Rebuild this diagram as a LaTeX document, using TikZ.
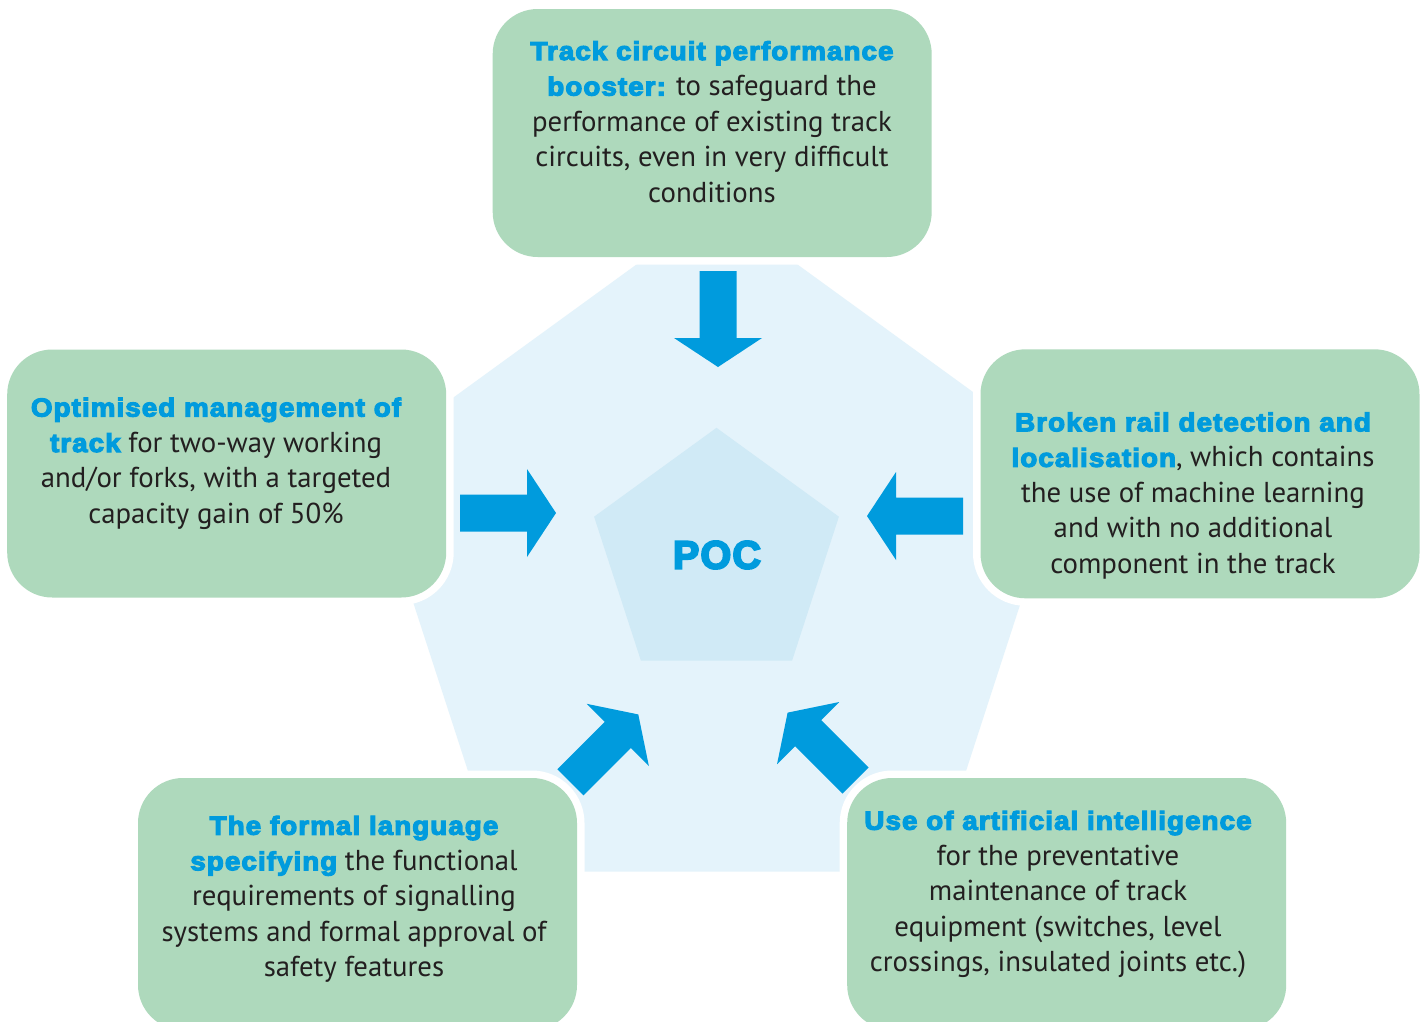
\documentclass[tikz,border=0pt]{standalone}
\usepackage{fontspec}
\setmainfont{PT Sans}
\newfontfamily\heavy{Liberation Sans Bold}[FakeStretch=1.07,FakeBold=4.5,LetterSpace=4]
\newfontfamily\heavypoc{Liberation Sans Bold}[FakeBold=5,LetterSpace=3]
\definecolor{boxgreen}{HTML}{AED9BC}
\definecolor{outerblue}{HTML}{E4F3FB}
\definecolor{innerblue}{HTML}{D0EAF6}
\definecolor{arrowblue}{HTML}{009BDD}
\definecolor{txt}{HTML}{231F20}
\tikzset{
  infobox/.style={rectangle, rounded corners=45pt, fill=boxgreen,
    preaction={draw=white, line width=15pt}, inner sep=0pt,
    minimum width=439pt, minimum height=248pt},
  infotext/.style={align=center, anchor=base, inner sep=0pt, text=txt,
    font=\fontsize{28.8}{35.5}\selectfont},
  pics/barrow/.style={code={
    \fill[arrowblue] (0,-18.5) -- (67,-18.5) -- (67,-44) -- (96,0)
      -- (67,44) -- (67,18.5) -- (0,18.5) -- cycle;}}
}
\newcommand{\hl}[1]{{\heavy\color{arrowblue}\fontsize{26}{35.5}\selectfont #1}}
\begin{document}
\begin{tikzpicture}[x=1pt,y=-1pt]
\useasboundingbox[fill=white] (0,0) rectangle (1425,1021);
% outer pentagon
\fill[outerblue] (717,206) -- (1067,460.3) -- (933.3,871.7) -- (500.7,871.7) -- (367,460.3) -- cycle;
% inner pentagon
\fill[innerblue] (716.5,427.8) -- (838.9,516.7) -- (792.1,660.6) -- (640.9,660.6) -- (594.1,516.7) -- cycle;
\node[text=arrowblue, font=\heavypoc\fontsize{39.5}{39.5}\selectfont] (poc) at (717,555) {POC};
% arrows
\pic[rotate=-90] (atop) at (718,271) {barrow};
\pic (aleft) at (460,513) {barrow};
\pic[rotate=180] (aright) at (963,516) {barrow};
\pic[rotate=45] (abl) at (570.4,782.3) {barrow};
\pic[rotate=135] (abr) at (855.5,780.5) {barrow};
% boxes
\node[infobox] (btop) at (712.2,133) {};
\node[infobox] (bleft) at (226.7,473.5) {};
\node[infobox, minimum height=249pt] (bright) at (1200,473.8) {};
\node[infobox, minimum height=252pt] (bbl) at (357.5,904) {};
\node[infobox, minimum height=252pt] (bbr) at (1066.7,904) {};
% texts (anchored at the baseline of their last line)
\node[infotext] (ttop) at (712,202) {\hl{Track circuit performance}\\\hl{booster:} to safeguard the\\performance of existing track\\circuits, even in very difficult\\conditions};
\node[infotext] (tleft) at (216,523) {\hl{Optimised management of}\\\hl{track} for two-way working\\and/or forks, with a targeted\\capacity gain of 50\%};
\node[infotext] (tright) at (1193,573.3) {\hl{Broken rail detection and}\\\hl{localisation}, which contains\\the use of machine learning\\and with no additional\\component in the track};
\node[infotext] (tbl) at (354,976.7) {\hl{The formal language}\\\hl{specifying} the functional\\requirements of signalling\\systems and formal approval of\\safety features};
\node[infotext] (tbr) at (1058,971.7) {\hl{Use of artificial intelligence}\\for the preventative\\maintenance of track\\equipment (switches, level\\crossings, insulated joints etc.)};
\end{tikzpicture}
\end{document}
